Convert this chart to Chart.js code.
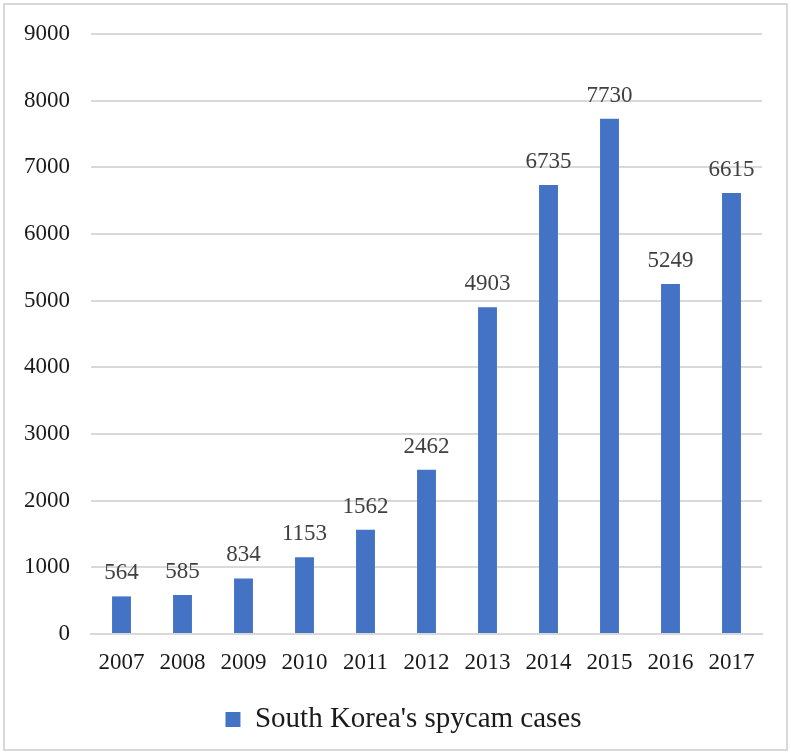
<!DOCTYPE html>
<html lang="en">
<head>
  <meta charset="UTF-8">
  <title>South Korea's spycam cases</title>
  <style>
    body {
      margin: 0;
      background: #ffffff;
    }
    #wrap {
      position: absolute;
      left: 3px;
      top: 3px;
      width: 781px;
      height: 744px;
      border: 2px solid #d9d9d9;
    }
  </style>
</head>
<body>
  <div id="wrap">
    <canvas id="spycamChart" width="781" height="744"></canvas>
  </div>

  <script src="https://cdn.jsdelivr.net/npm/chart.js"></script>
  <script>
    const years = ['2007', '2008', '2009', '2010', '2011', '2012', '2013', '2014', '2015', '2016', '2017'];
    const cases = [564, 585, 834, 1153, 1562, 2462, 4903, 6735, 7730, 5249, 6615];
    const seriesName = "South Korea's spycam cases";

    const serif = '"Liberation Serif", "Times New Roman", serif';

    // value labels above each bar
    const barValues = {
      id: 'barValues',
      afterDatasetsDraw(chart) {
        const ctx = chart.ctx;
        const meta = chart.getDatasetMeta(0);
        ctx.save();
        ctx.font = '23px ' + serif;
        ctx.fillStyle = '#404040';
        ctx.textAlign = 'center';
        ctx.textBaseline = 'alphabetic';
        meta.data.forEach(function(bar, i) {
          ctx.fillText(String(cases[i]), bar.x, bar.y - 17);
        });
        ctx.restore();
      }
    };

    // centre the legend a little further right, under the plot
    const legendShift = {
      id: 'legendShift',
      afterLayout(chart) {
        if (chart.legend) chart.legend.left += 40;
      }
    };

    new Chart(document.getElementById('spycamChart'), {
      type: 'bar',
      data: {
        labels: years,
        datasets: [{
          label: seriesName,
          data: cases,
          backgroundColor: '#4472C4',
          borderWidth: 0,
          categoryPercentage: 1,
          barPercentage: 0.31
        }]
      },
      options: {
        responsive: false,
        animation: false,
        layout: {
          padding: { top: 29, right: 24, bottom: 5, left: 0 }
        },
        plugins: {
          legend: {
            position: 'bottom',
            labels: {
              boxWidth: 15,
              boxHeight: 15,
              padding: 10,
              color: '#1a1a1a',
              font: { family: serif, size: 29 }
            }
          },
          tooltip: { enabled: false }
        },
        scales: {
          x: {
            grid: { display: false, drawTicks: false },
            border: { color: '#d9d9d9', width: 2 },
            ticks: {
              color: '#1a1a1a',
              padding: 15,
              font: { family: serif, size: 23 }
            },
            afterFit(scale) { scale.height = 61; }
          },
          y: {
            min: 0,
            max: 9000,
            grid: {
              color: '#d9d9d9',
              lineWidth: 2,
              drawTicks: true,
              tickLength: 21,
              tickColor: 'rgba(0,0,0,0)'
            },
            border: { display: false },
            ticks: {
              stepSize: 1000,
              color: '#1a1a1a',
              padding: 0,
              font: { family: serif, size: 23 },
              callback: function(value) { return String(value); }
            },
            afterFit(scale) { scale.width = 86; }
          }
        }
      },
      plugins: [barValues, legendShift]
    });
  </script>
</body>
</html>
